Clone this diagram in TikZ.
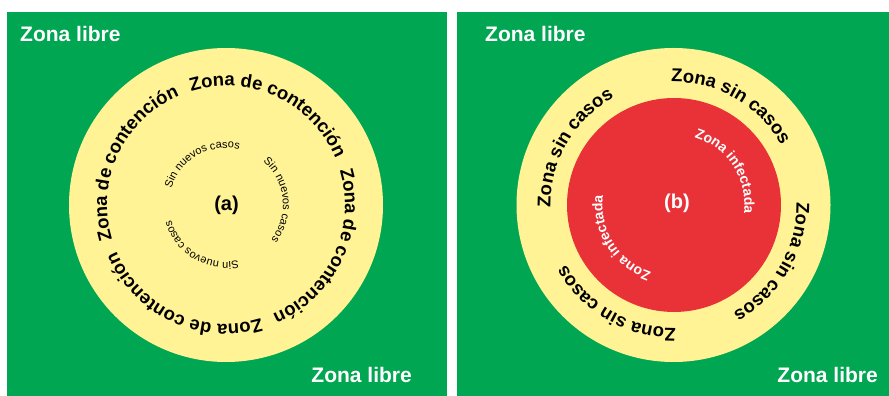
\documentclass[tikz,border=0pt]{standalone}
\usepackage{fontspec}
\setmainfont{Liberation Sans}
\usetikzlibrary{decorations.text,calc}

\definecolor{zonegreen}{RGB}{0,166,81}
\definecolor{zoneyellow}{RGB}{255,243,150}
\definecolor{zonered}{RGB}{232,50,56}

% Text set clockwise along a circle: centre, radius, middle angle,
% font commands, colour, text
\newcommand{\ringlabel}[6]{%
  \path[decorate, decoration={text along path, text align=center,
      text color=#5, text={|#4|#6}}]
    ($(#1)+({#3+80}:#2)$) arc[start angle={#3+80}, end angle={#3-80}, radius=#2];
}

\newcommand{\bigbold}{\bfseries\fontsize{18.5}{18.5}\selectfont}
\newcommand{\smallreg}{\fontsize{11}{11}\selectfont}
\newcommand{\midbold}{\bfseries\fontsize{14}{14}\selectfont}

\tikzset{
  panel/.style={fill=zonegreen},
  libre/.style={text=white, inner sep=0pt, font=\bfseries\fontsize{21}{21}\selectfont},
  tag/.style={inner sep=0pt, font=\bfseries\fontsize{20}{20}\selectfont},
}

\begin{document}
\begin{tikzpicture}[x=1pt,y=1pt]
  \useasboundingbox (0,0) rectangle (889,396);
  \fill[white] (0,0) rectangle (889,396);

  % panels
  \fill[panel] (7,0) rectangle (446.5,384);
  \fill[panel] (457,0) rectangle (889,384);

  \coordinate (ca) at (226,191);
  \coordinate (cb) at (673.5,191);

  % (a) containment ring
  \fill[zoneyellow] (ca) circle[radius=157];
  \foreach \m in {65,-25,-115,155}{
    \ringlabel{ca}{119}{\m}{\bigbold}{black}{Zona de contención}
  }
  \foreach \m in {120,6,-121}{
    \ringlabel{ca}{57}{\m}{\smallreg}{black}{Sin nuevos casos}
  }
  \node[tag] (taga) at (226.5,191) {(a)};

  % (b) infected core with case-free ring
  \fill[zoneyellow] (cb) circle[radius=157];
  \fill[zonered] (674,191) circle[radius=107];
  \foreach \m in {60,-30,-120,150}{
    \ringlabel{cb}{123}{\m}{\bigbold}{black}{Zona sin casos}
  }
  \foreach \m in {33,-148}{
    \ringlabel{cb}{71}{\m}{\midbold}{white}{Zona infectada}
  }
  \node[tag, text=white] (tagb) at (677,193) {(b)};

  % free zones
  \node[libre, anchor=base west] (freeAtl) at (20,354) {Zona libre};
  \node[libre, anchor=base east] (freeAbr) at (412,13) {Zona libre};
  \node[libre, anchor=base west] (freeBtl) at (485,354) {Zona libre};
  \node[libre, anchor=base east] (freeBbr) at (878,13) {Zona libre};
\end{tikzpicture}
\end{document}
